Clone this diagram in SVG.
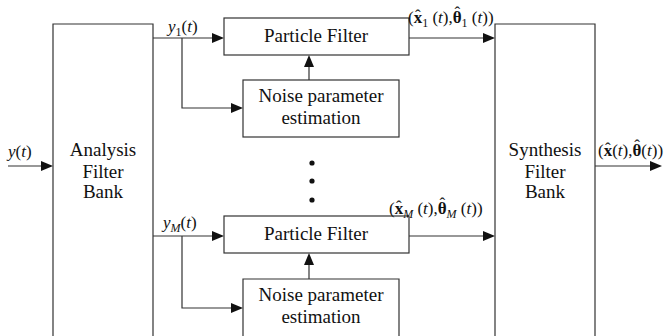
<svg xmlns="http://www.w3.org/2000/svg" width="669" height="336" viewBox="0 0 669 336">
  <style>
    .box { fill: #fff; stroke: #333; stroke-width: 1.2; }
    .wire { fill: none; stroke: #333; stroke-width: 1.2; }
    .head { fill: #111; stroke: none; }
    .lbl { font-family: "Liberation Serif", serif; font-size: 19px; text-anchor: middle; fill: #111; }
    .math { font-family: "Liberation Serif", serif; font-size: 17px; fill: #111; }
    .i { font-style: italic; }
    .b { font-weight: bold; }
    .sub { font-size: 12px; }
  </style>
  <rect width="669" height="336" fill="#fff"/>

  <g id="connectors">
    <!-- input -->
    <line class="wire" x1="8" y1="166" x2="42" y2="166"/>
    <!-- branch 1 -->
    <line class="wire" x1="153" y1="38" x2="213" y2="38"/>
    <polyline class="wire" points="182,38 182,108 232,108"/>
    <line class="wire" x1="309" y1="80" x2="309" y2="66"/>
    <line class="wire" x1="409" y1="38" x2="484" y2="38"/>
    <!-- branch M -->
    <line class="wire" x1="153" y1="236" x2="213" y2="236"/>
    <polyline class="wire" points="182,236 182,308 232,308"/>
    <line class="wire" x1="309" y1="279" x2="309" y2="264"/>
    <line class="wire" x1="409" y1="236" x2="484" y2="236"/>
    <!-- output -->
    <line class="wire" x1="595" y1="166" x2="651" y2="166"/>
    <!-- arrowheads -->
    <polygon class="head" points="53,166 41,161 41,171"/>
    <polygon class="head" points="224,38 212,33 212,43"/>
    <polygon class="head" points="243,108 231,103 231,113"/>
    <polygon class="head" points="309,55 304,67 314,67"/>
    <polygon class="head" points="495,38 483,33 483,43"/>
    <polygon class="head" points="224,236 212,231 212,241"/>
    <polygon class="head" points="243,308 231,303 231,313"/>
    <polygon class="head" points="309,253 304,265 314,265"/>
    <polygon class="head" points="495,236 483,231 483,241"/>
    <polygon class="head" points="662,166 650,161 650,171"/>
  </g>

  <g id="analysis-bank">
    <path class="box" d="M53,340 L53,24 L153,24 L153,340"/>
    <text class="lbl" x="103" y="156">Analysis</text>
    <text class="lbl" x="103" y="178">Filter</text>
    <text class="lbl" x="103" y="198">Bank</text>
  </g>

  <g id="synthesis-bank">
    <path class="box" d="M495,340 L495,24 L595,24 L595,340"/>
    <text class="lbl" x="545" y="156">Synthesis</text>
    <text class="lbl" x="545" y="178">Filter</text>
    <text class="lbl" x="545" y="198">Bank</text>
  </g>

  <g id="pf-1">
    <rect class="box" x="224" y="18" width="185" height="37"/>
    <text class="lbl" x="316" y="42">Particle Filter</text>
  </g>

  <g id="noise-1">
    <rect class="box" x="243" y="80" width="156" height="57"/>
    <text class="lbl" x="321" y="102">Noise parameter</text>
    <text class="lbl" x="321" y="124">estimation</text>
  </g>

  <g id="pf-M">
    <rect class="box" x="224" y="216" width="185" height="37"/>
    <text class="lbl" x="316" y="240">Particle Filter</text>
  </g>

  <g id="noise-M">
    <path class="box" d="M243,340 L243,279 L399,279 L399,340"/>
    <text class="lbl" x="321" y="301">Noise parameter</text>
    <text class="lbl" x="321" y="323">estimation</text>
  </g>

  <g id="ellipsis" fill="#111">
    <circle cx="312" cy="163" r="2.6"/>
    <circle cx="312" cy="181" r="2.6"/>
    <circle cx="312" cy="200" r="2.6"/>
  </g>

  <g id="labels">
    <text class="math" x="8" y="157"><tspan class="i">y</tspan>(<tspan class="i">t</tspan>)</text>
    <text class="math" x="168" y="32"><tspan class="i">y</tspan><tspan class="sub" dy="4">1</tspan><tspan dy="-4">(</tspan><tspan class="i">t</tspan>)</text>
    <text class="math" x="163" y="228"><tspan class="i">y</tspan><tspan class="i sub" dy="4">M</tspan><tspan dy="-4">(</tspan><tspan class="i">t</tspan>)</text>
    <text class="math" x="408" y="23">(<tspan class="b">x</tspan><tspan dx="-7.1" dy="-2">ˆ</tspan><tspan class="sub" dx="1.4" dy="6">1</tspan><tspan dy="-4"> (</tspan><tspan class="i">t</tspan>),<tspan class="b">θ</tspan><tspan dx="-7.1" dy="-5">ˆ</tspan><tspan class="sub" dx="1.4" dy="9">1</tspan><tspan dy="-4"> (</tspan><tspan class="i">t</tspan>))</text>
    <text class="math" x="389" y="214">(<tspan class="b">x</tspan><tspan dx="-7.1" dy="-2">ˆ</tspan><tspan class="i sub" dx="1.4" dy="6">M</tspan><tspan dy="-4"> (</tspan><tspan class="i">t</tspan>),<tspan class="b">θ</tspan><tspan dx="-7.1" dy="-5">ˆ</tspan><tspan class="i sub" dx="1.4" dy="9">M</tspan><tspan dy="-4"> (</tspan><tspan class="i">t</tspan>))</text>
    <text class="math" x="598" y="156">(<tspan class="b">x</tspan><tspan dx="-7.1" dy="-2">ˆ</tspan><tspan dx="1.4" dy="2">(</tspan><tspan class="i">t</tspan>),<tspan class="b">θ</tspan><tspan dx="-7.1" dy="-5">ˆ</tspan><tspan dx="1.4" dy="5">(</tspan><tspan class="i">t</tspan>))</text>
  </g>
</svg>
